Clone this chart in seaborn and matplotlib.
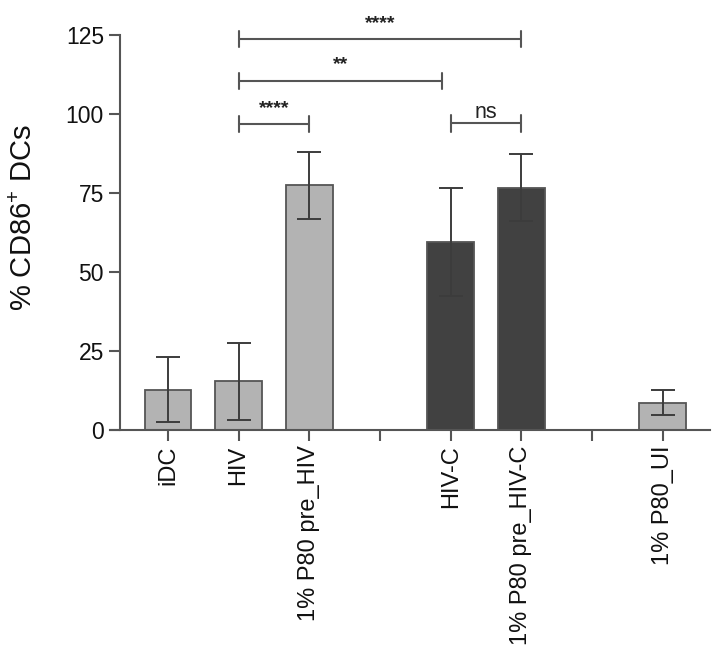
import seaborn as sns
import matplotlib.pyplot as plt
import pandas as pd

sns.set_theme(style="ticks")
plt.rcParams["font.family"] = ["Liberation Sans", "DejaVu Sans"]
plt.rcParams["mathtext.default"] = "regular"

# slots on the x axis (blank slots are gaps between groups)
order = ["iDC", "HIV", "1% P80 pre_HIV", " ", "HIV-C", "1% P80 pre_HIV-C", "  ", "1% P80_UI"]
groups = ["iDC", "HIV", "1% P80 pre_HIV", "HIV-C", "1% P80 pre_HIV-C", "1% P80_UI"]
means = [12.8, 15.4, 77.4, 59.5, 76.7, 8.6]
sds = [10.2, 12.2, 10.6, 17.0, 10.6, 4.0]
bar_colors = ["#b3b3b3", "#b3b3b3", "#b3b3b3", "#414141", "#414141", "#b3b3b3"]

# significance brackets: (from, to, height, label)
brackets = [
    ("HIV", "1% P80 pre_HIV-C", 123.7, "****"),
    ("HIV", "HIV-C", 110.5, "**"),
    ("HIV", "1% P80 pre_HIV", 96.8, "****"),
    ("HIV-C", "1% P80 pre_HIV-C", 97.0, "ns"),
]

df = pd.DataFrame({"group": groups, "value": means})

fig = plt.figure(figsize=(7.18, 6.62), dpi=100)
ax = fig.add_axes([110 / 718, 1 - 430 / 662, 600 / 718, 425 / 662])

sns.barplot(data=df, x="group", y="value", order=order, hue="group",
            palette=dict(zip(groups, bar_colors)), width=0.66,
            edgecolor="#555555", linewidth=1.3, errorbar=None,
            legend=False, ax=ax)

xpos = [order.index(g) for g in groups]
ax.errorbar(xpos, means, yerr=sds, fmt="none", ecolor="#3c3c3c",
            elinewidth=1.4, capsize=8.5, capthick=1.4, zorder=5)

gray = "#555555"
for a, b, y, lab in brackets:
    x0, x1 = order.index(a), order.index(b)
    if lab == "**":
        x1 -= 0.12
    ax.plot([x0, x1], [y, y], color=gray, lw=1.5, clip_on=False)
    for xx in (x0, x1):
        ax.plot([xx, xx], [y - 2.6, y + 2.6], color=gray, lw=1.5, clip_on=False)
    if lab == "ns":
        ax.text((x0 + x1) / 2, y + 1.8, lab, ha="center", va="baseline",
                fontsize=15.5, color="#222222")
    else:
        ax.text((x0 + x1) / 2, y + 3.6, lab, ha="center", va="baseline",
                fontsize=14, fontweight="bold", color="#222222")

ax.set_xlim(-0.82, 7.67)
ax.set_ylim(0, 134.5)
ax.set_yticks([0, 25, 50, 75, 100, 125])
ax.spines["left"].set_position(("data", -0.68))
ax.spines["left"].set_bounds(0, 125)
ax.spines["right"].set_visible(False)
ax.spines["top"].set_visible(False)
for s in ("left", "bottom"):
    ax.spines[s].set_color(gray)
    ax.spines[s].set_linewidth(1.5)

ax.tick_params(axis="both", colors=gray, width=1.5, length=8, labelsize=16.5,
               labelcolor="#111111")
ax.tick_params(axis="x", labelrotation=90, pad=3, labelsize=17)
ax.set_xlabel("")
ax.set_ylabel("% CD86$^{+}$ DCs", fontsize=21, color="#111111", labelpad=20)

fig.savefig("out.png", dpi=100)
plt.close()
